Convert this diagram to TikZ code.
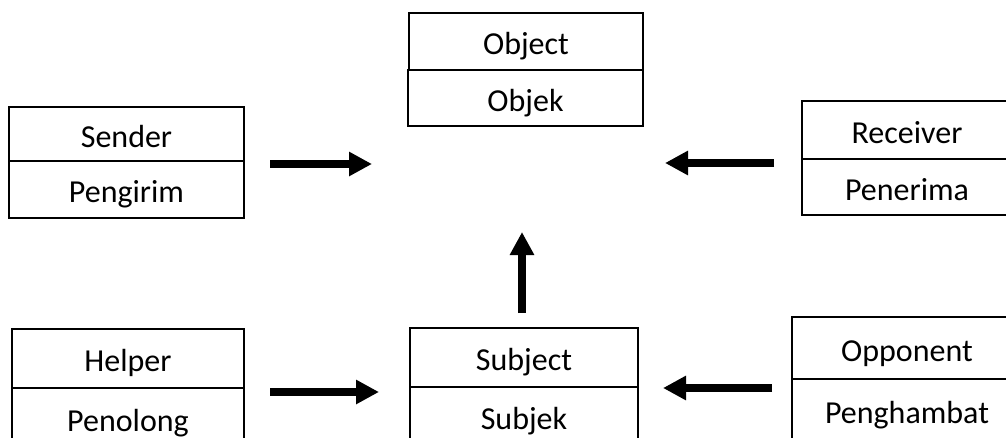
\documentclass[tikz,border=0pt]{standalone}
\usepackage{fontspec}
\setmainfont{Carlito}
\usetikzlibrary{arrows.meta}
\tikzset{
  cell/.style={draw=black, line width=1.6pt, rectangle, inner sep=0pt,
    text height=27pt, text depth=1pt, font=\fontsize{32}{37}\selectfont},
  bigarrow/.style={line width=8pt, -{Triangle[length=23pt,width=23pt]}}
}
\begin{document}
\begin{tikzpicture}[x=1pt,y=-1pt]
\useasboundingbox (0,0) rectangle (1006,437);
\clip (0,0) rectangle (1006,437);
% Object
\node[cell, minimum width=234pt, minimum height=57pt] (object) at (526,41.5) {Object};
\node[cell, minimum width=235pt, minimum height=56pt] (objek) at (525.5,98) {Objek};
% Sender
\node[cell, minimum width=235pt, minimum height=54pt] (sender) at (126.5,134) {Sender};
\node[cell, minimum width=235pt, minimum height=57pt] (pengirim) at (126.5,189.5) {Pengirim};
% Receiver
\node[cell, minimum width=210pt, minimum height=58pt] (receiver) at (907,130) {Receiver};
\node[cell, minimum width=210pt, minimum height=56pt] (penerima) at (907,187) {Penerima};
% Helper
\node[cell, minimum width=232pt, minimum height=59pt] (helper) at (128,358.5) {Helper};
\node[cell, minimum width=232pt, minimum height=60pt] (penolong) at (128,418) {Penolong};
% Subject
\node[cell, minimum width=228pt, minimum height=59pt] (subject) at (524,357.5) {Subject};
\node[cell, minimum width=228pt, minimum height=59pt] (subjek) at (524,416.5) {Subjek};
% Opponent
\node[cell, minimum width=230pt, minimum height=62pt] (opponent) at (907,348) {Opponent};
\node[cell, minimum width=230pt, minimum height=62pt] (penghambat) at (907,410) {Penghambat};
% arrows
\coordinate (sendS) at (270,164);
\coordinate (sendE) at (372,164);
\coordinate (recS) at (774,163);
\coordinate (recE) at (665,163);
\coordinate (helpS) at (270,392);
\coordinate (helpE) at (379,392);
\coordinate (oppS) at (772,388);
\coordinate (oppE) at (663,388);
\coordinate (subS) at (522,313);
\coordinate (subE) at (522,232);
\draw[bigarrow] (sendS) -- (sendE);
\draw[bigarrow] (recS) -- (recE);
\draw[bigarrow] (helpS) -- (helpE);
\draw[bigarrow] (oppS) -- (oppE);
\draw[bigarrow] (subS) -- (subE);
\end{tikzpicture}
\end{document}
